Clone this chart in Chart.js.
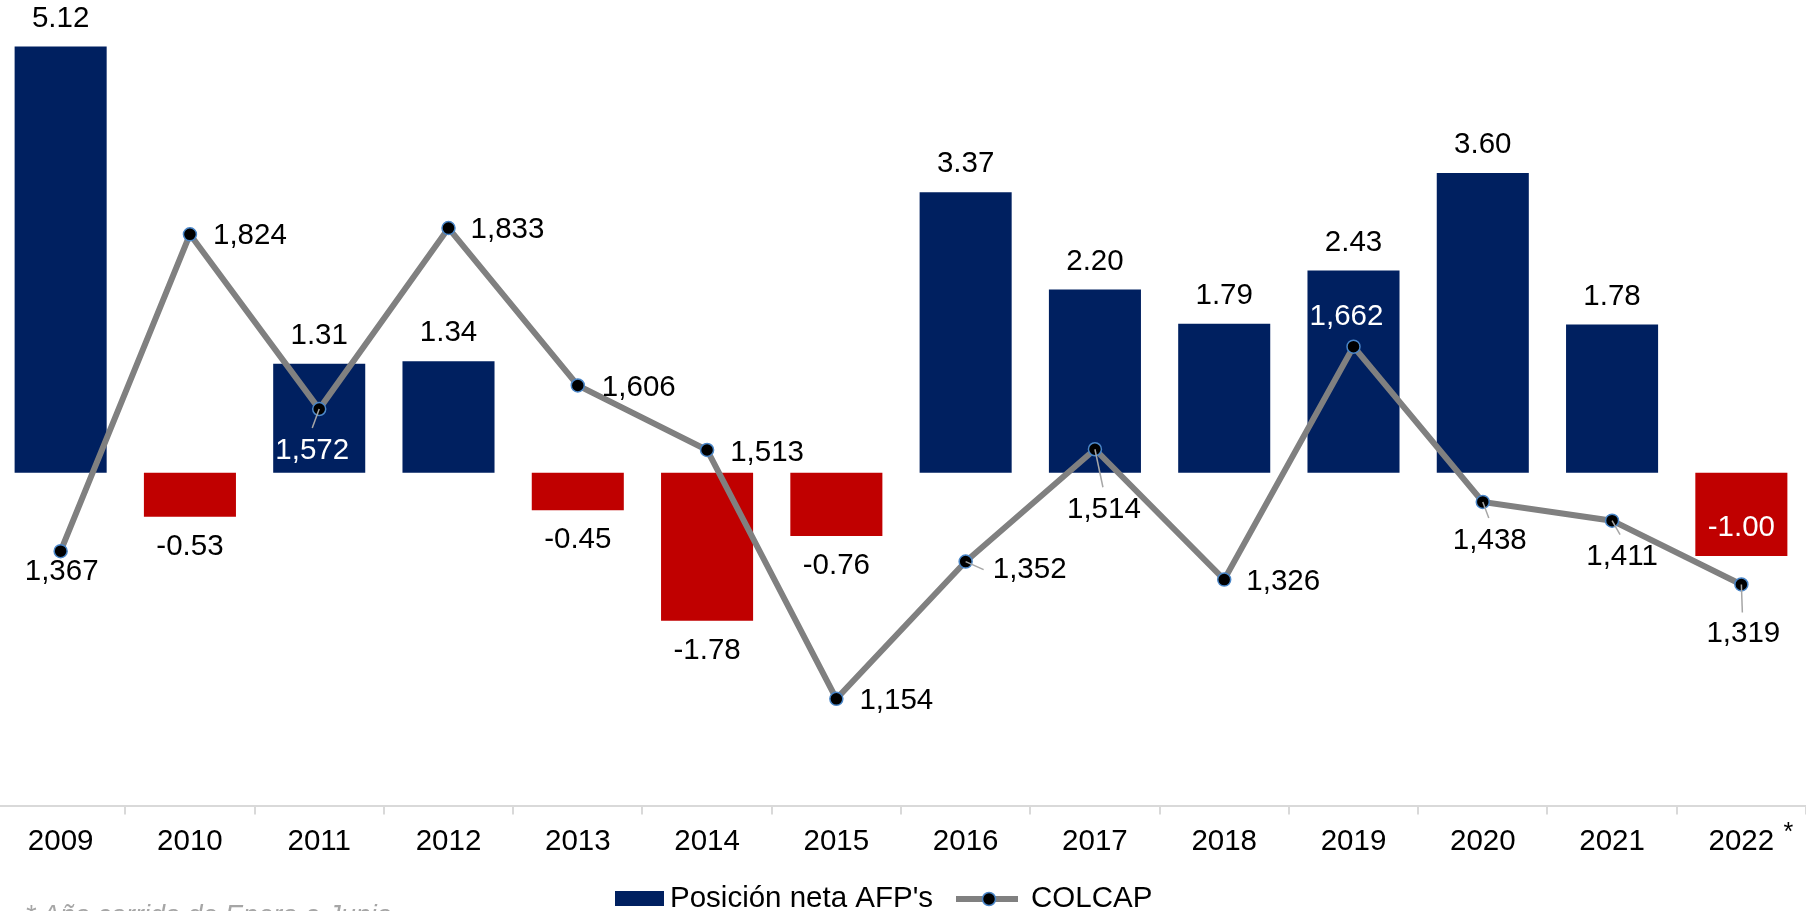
<!DOCTYPE html>
<html>
<head>
<meta charset="utf-8">
<script src="https://cdn.jsdelivr.net/npm/chart.js@4.4.1/dist/chart.umd.min.js"></script>
<style>
html, body { margin: 0; padding: 0; background: #fff; overflow: hidden; }
body { width: 1810px; height: 911px; position: relative; font-family: "Liberation Sans", Arial, sans-serif; }
.chart-wrapper { position: absolute; left: -4px; top: 0; width: 1810px; height: 911px; }
.footnote { position: absolute; left: 25px; top: 900px; font-style: italic; font-size: 27px; color: #a6a6a6; white-space: nowrap; }
</style>
</head>
<body>
<div class="chart-wrapper"><canvas id="afp-chart"></canvas></div>
<div class="footnote">* Año corrido de Enero a Junio</div>
<script>
const years = ['2009', '2010', '2011', '2012', '2013', '2014', '2015', '2016', '2017', '2018', '2019', '2020', '2021', '2022'];
const afp_net_position = [5.12, -0.53, 1.31, 1.34, -0.45, -1.78, -0.76, 3.37, 2.20, 1.79, 2.43, 3.60, 1.78, -1.00];
const colcap_values = [1367, 1824, 1572, 1833, 1606, 1513, 1154, 1352, 1514, 1326, 1662, 1438, 1411, 1319];
const legend_labels = ["Posición neta AFP's", 'COLCAP'];
const partial_year_mark = '*';

const FONT = '"Liberation Sans", Arial, sans-serif';
const FONT_SIZE = 29.5;
const NAVY = '#002060';
const RED = '#c00000';
const GREY_LINE = '#808080';
const MARKER_RING = '#4a86c8';
const CANVAS_SHIFT = 4; // canvas starts 4px left of the page

// labels, leader lines, legend and the little asterisk are drawn here
const labels_plugin = {
	id: 'valueLabels',
	afterDraw(chart, args, opts) {
		const ctx = chart.ctx;
		ctx.save();
		ctx.font = `${FONT_SIZE}px ${FONT}`;
		ctx.textAlign = 'center';
		ctx.textBaseline = 'middle';

		// bar labels
		chart.getDatasetMeta(0).data.forEach((bar, i) => {
			const value = afp_net_position[i];
			let y;
			if (opts.insideBars.includes(i)) {
				ctx.fillStyle = '#fff';
				y = bar.y - 28;
			} else if (value >= 0) {
				ctx.fillStyle = '#000';
				y = bar.y - 28;
			} else {
				ctx.fillStyle = '#000';
				y = bar.y + 30;
			}
			ctx.fillText(value.toFixed(2), bar.x, y);
		});

		// line labels with leader lines
		chart.getDatasetMeta(1).data.forEach((pt, i) => {
			const [dx, dy] = opts.lineOffsets[i];
			const leader = opts.leaders[i];
			if (leader) {
				ctx.strokeStyle = '#a6a6a6';
				ctx.lineWidth = 1.5;
				ctx.beginPath();
				ctx.moveTo(pt.x, pt.y);
				ctx.lineTo(pt.x + leader[0], pt.y + leader[1]);
				ctx.stroke();
			}
			ctx.fillStyle = opts.whiteLine.includes(i) ? '#fff' : '#000';
			ctx.fillText(colcap_values[i].toLocaleString('en-US'), pt.x + dx, pt.y + dy);
		});

		// asterisk next to last year
		const x_scale = chart.scales.x;
		ctx.font = `25px ${FONT}`;
		ctx.fillStyle = '#000';
		ctx.fillText(partial_year_mark, x_scale.getPixelForValue(years.length - 1) + 47, 833);

		// legend (page coords shifted into the canvas)
		const s = CANVAS_SHIFT;
		const ly = 899;
		ctx.fillStyle = NAVY;
		ctx.fillRect(615 + s, 891, 49, 15);
		ctx.font = `${FONT_SIZE}px ${FONT}`;
		ctx.textAlign = 'left';
		ctx.fillStyle = '#000';
		ctx.fillText(legend_labels[0], 670 + s, ly);
		ctx.strokeStyle = GREY_LINE;
		ctx.lineWidth = 6;
		ctx.beginPath();
		ctx.moveTo(956 + s, ly);
		ctx.lineTo(1018 + s, ly);
		ctx.stroke();
		ctx.beginPath();
		ctx.arc(989 + s, ly, 6.5, 0, Math.PI * 2);
		ctx.fillStyle = '#000';
		ctx.fill();
		ctx.lineWidth = 1.5;
		ctx.strokeStyle = MARKER_RING;
		ctx.stroke();
		ctx.fillStyle = '#000';
		ctx.fillText(legend_labels[1], 1031 + s, ly);
		ctx.restore();
	}
};

const chart_config = {
	type: 'bar',
	data: {
		labels: years,
		datasets: [
			{
				type: 'bar',
				label: legend_labels[0],
				data: afp_net_position,
				backgroundColor: afp_net_position.map(v => v < 0 ? RED : NAVY),
				borderWidth: 0,
				categoryPercentage: 1,
				barPercentage: 0.712,
				yAxisID: 'y',
				order: 2
			},
			{
				type: 'line',
				label: legend_labels[1],
				data: colcap_values,
				borderColor: GREY_LINE,
				borderWidth: 6,
				tension: 0,
				pointRadius: 6.5,
				pointBorderWidth: 1.5,
				pointBackgroundColor: '#000',
				pointBorderColor: MARKER_RING,
				yAxisID: 'y1',
				order: 1
			}
		]
	},
	options: {
		responsive: true,
		maintainAspectRatio: false,
		animation: false,
		layout: { autoPadding: false, padding: { top: 0, left: 0, right: 0, bottom: 41 } },
		plugins: {
			legend: { display: false },
			tooltip: { enabled: false },
			valueLabels: {
				insideBars: [13],
				whiteLine: [2, 10],
				lineOffsets: [[1, 21], [60, 2], [-7, 42], [59, 2], [61, 2], [60, 3], [60, 2], [64, 8], [9, 61], [59, 2], [-7, -30], [7, 39], [10, 36], [2, 49]],
				leaders: { 2: [-7, 19], 7: [18, 8], 8: [8, 38], 11: [6, 16], 12: [8, 14], 13: [1, 28] }
			}
		},
		scales: {
			x: {
				grid: { offset: true, drawOnChartArea: false, drawTicks: true, tickLength: 9, color: '#d9d9d9', lineWidth: 2 },
				border: { display: true, color: '#d9d9d9', width: 2 },
				ticks: { font: { size: FONT_SIZE, family: FONT }, color: '#000', padding: 10, maxRotation: 0, autoSkip: false }
			},
			y: { display: false, min: -4, max: 5.68 },
			y1: { display: false, min: 1000, max: 2162 }
		}
	},
	plugins: [labels_plugin]
};

const afp_chart = new Chart(document.getElementById('afp-chart'), chart_config);
</script>
</body>
</html>
